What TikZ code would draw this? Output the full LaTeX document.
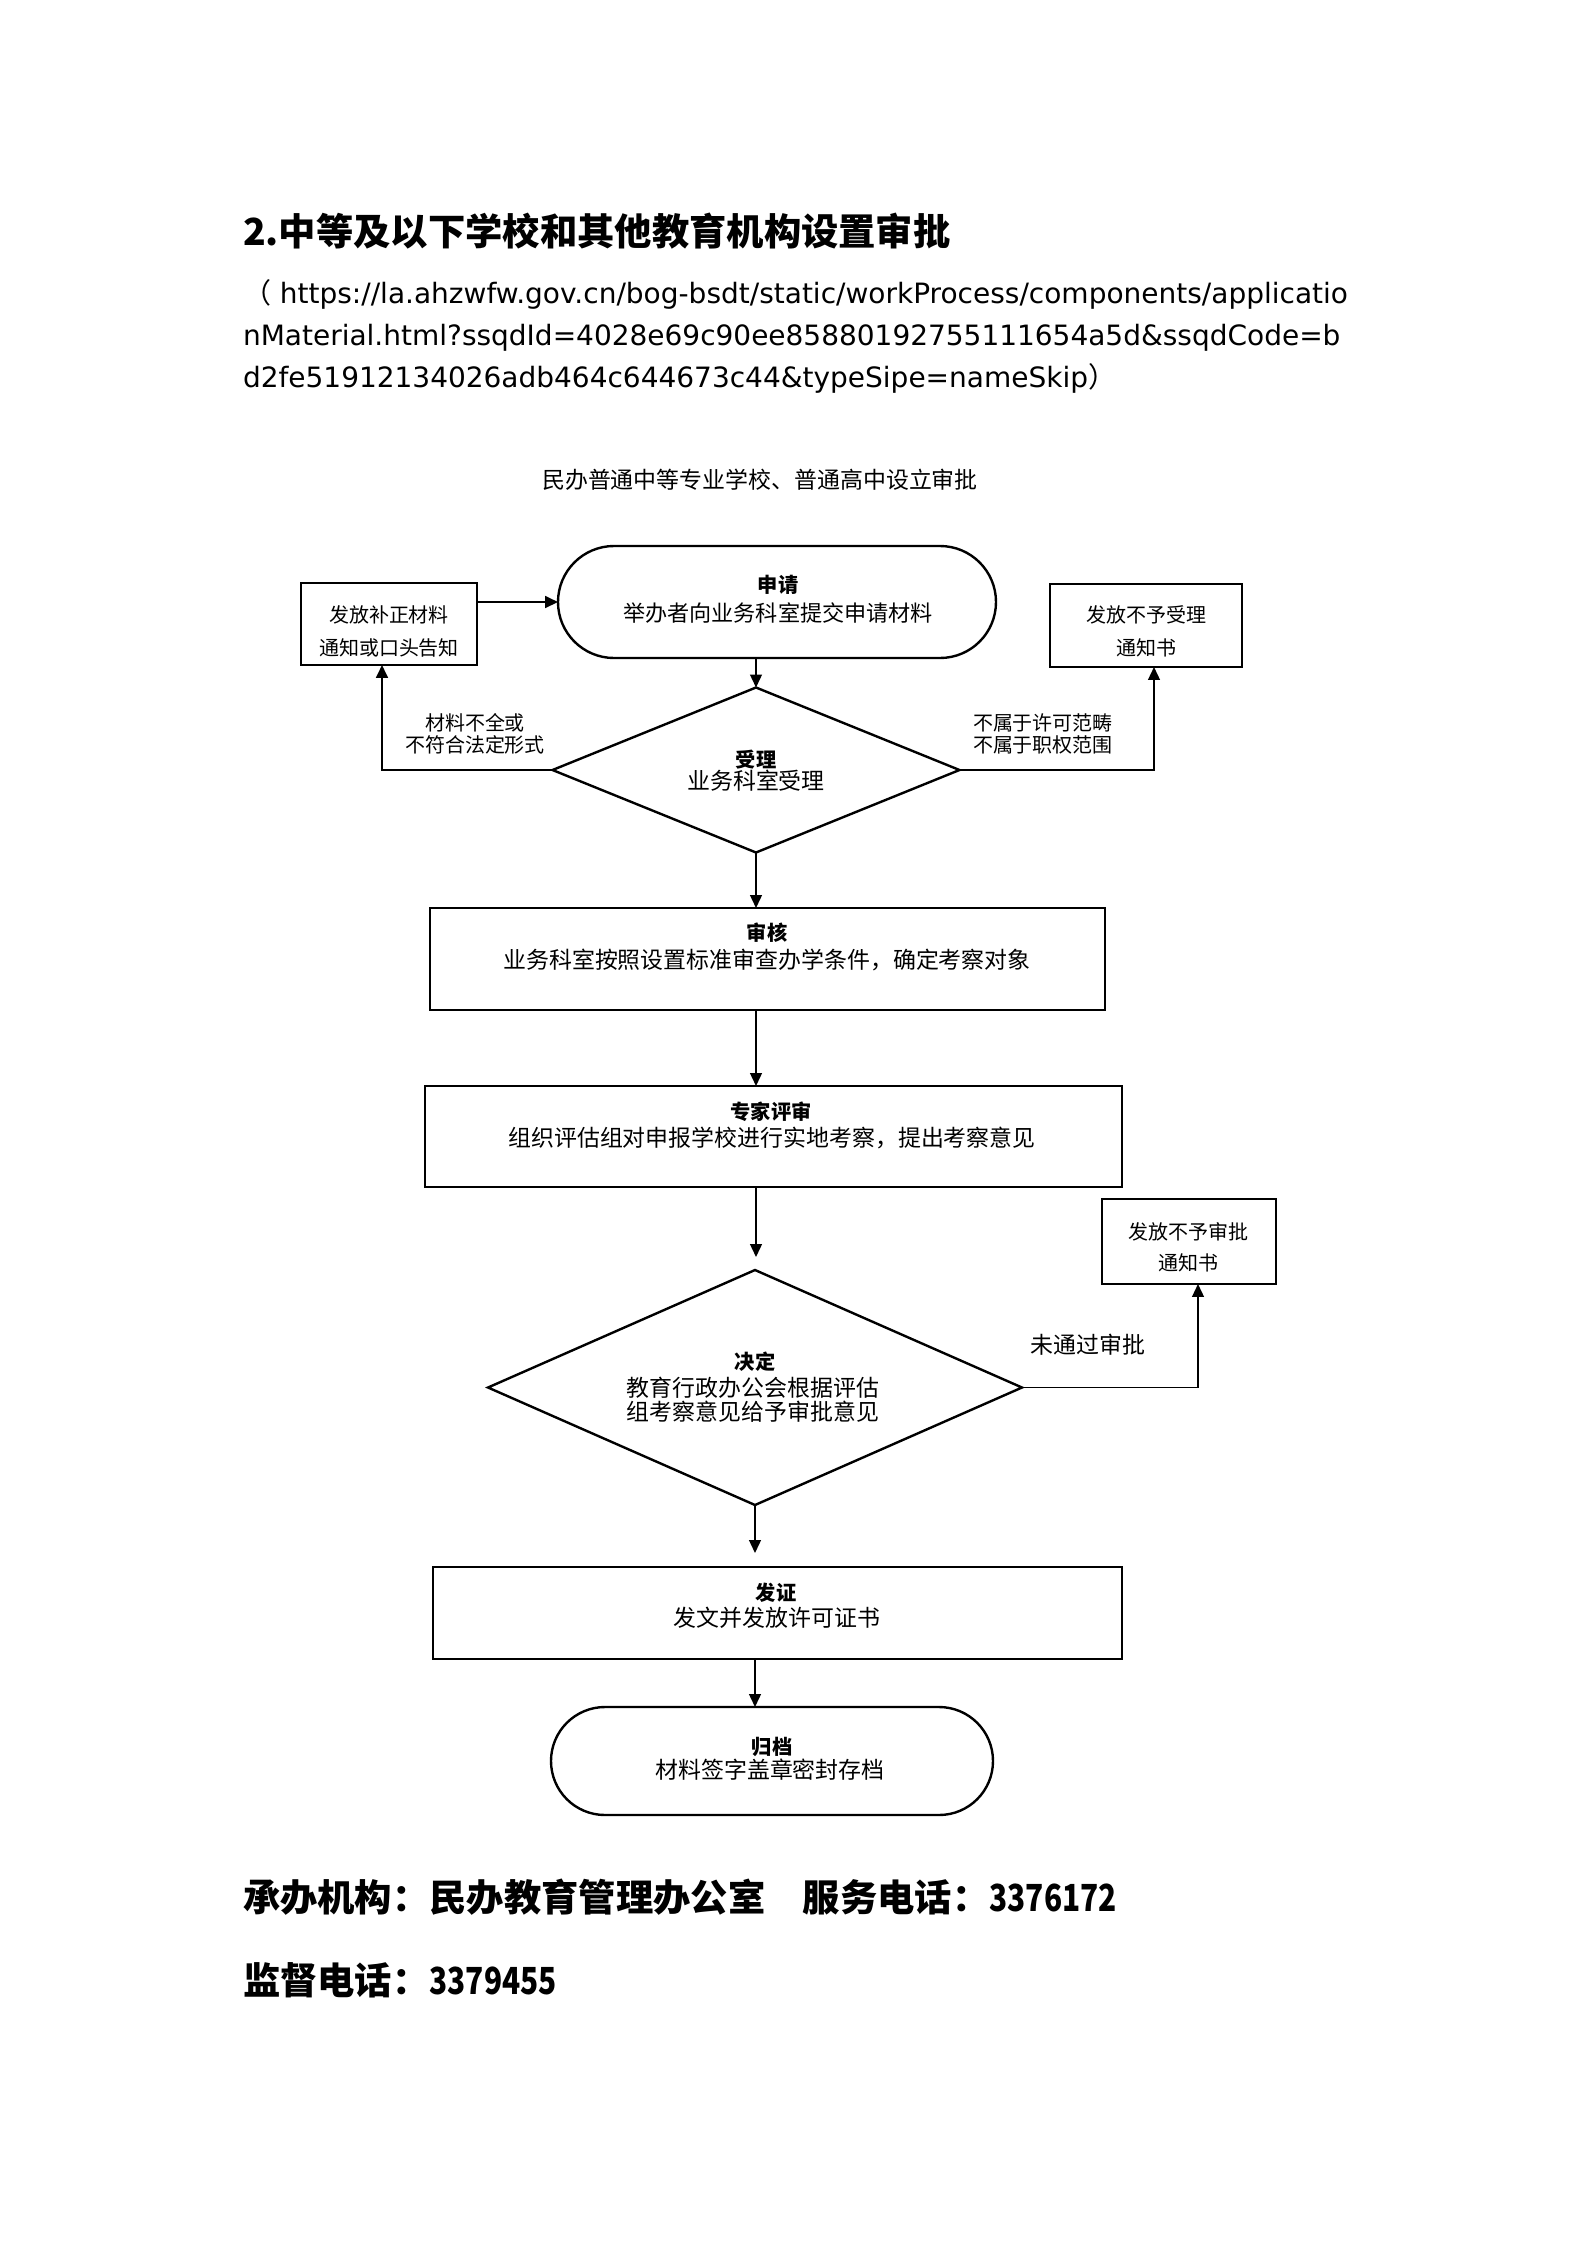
\documentclass[tikz,border=0pt]{standalone}
\usepackage{fontspec}
\usepackage{graphicx}
\setmainfont{DejaVu Sans}
\newfontfamily\cjk{Noto Sans CJK SC}
\usetikzlibrary{shapes.geometric,shapes.misc,arrows.meta}
\newcommand\pxu{0.37510pt}
\newcommand\narrowdigits[1]{\scalebox{0.8}[1]{#1}}
\begin{document}
\begin{tikzpicture}[x=0.37510pt,y=-0.37510pt,
  every node/.style={inner sep=0pt,outer sep=0pt},
  box/.style={draw,line width=0.95pt,rectangle},
  stad/.style={draw,line width=0.9pt,rounded rectangle},
  dia/.style={draw,line width=0.9pt,diamond},
  ctxt/.style={font=\cjk\fontsize{8.6}{10}\selectfont},
  atxt/.style={font=\cjk\fontsize{8.3}{10}\selectfont},
  btxt/.style={font=\cjk\bfseries\fontsize{7.6}{9}\selectfont},
  stxt/.style={font=\cjk\fontsize{7.5}{9}\selectfont},
  headtxt/.style={font=\cjk\bfseries\fontsize{14}{16}\selectfont},
  urltxt/.style={font=\fontsize{10.5}{12}\selectfont},
  conn/.style={line width=0.6pt},
  tip/.style={-{Triangle[length=4.8pt,width=4.4pt]}},
  arr/.style={conn,tip},
  thickarr/.style={line width=0.85pt,tip}]
\useasboundingbox (0,0) rectangle (1587,2245);

% heading and source
\node[headtxt,anchor=west] (heading) at (243,231) {2.中等及以下学校和其他教育机构设置审批};
\node[urltxt,anchor=base west] (url1) at (243,303) {{\cjk （} https://la.ahzwfw.gov.cn/bog-bsdt/static/workProcess/components/applicatio};
\node[urltxt,anchor=base west] (url2) at (243,345) {nMaterial.html?ssqdId=4028e69c90ee85880192755111654a5d\&ssqdCode=b};
\node[urltxt,anchor=base west] (url3) at (243,387) {d2fe51912134026adb464c644673c44\&typeSipe=nameSkip{\cjk ）}};

% chart title
\node[ctxt] (ctitle) at (760,480) {民办普通中等专业学校、普通高中设立审批};

% shapes
\node[stad,minimum width=438*\pxu,minimum height=112*\pxu] (apply) at (777,602) {};
\node[box,minimum width=176*\pxu,minimum height=82*\pxu] (lbox) at (389,624) {};
\node[box,minimum width=192*\pxu,minimum height=83*\pxu] (rbox1) at (1146,625.5) {};
\node[dia,minimum width=407*\pxu,minimum height=165*\pxu] (accept) at (756,770) {};
\node[box,minimum width=675*\pxu,minimum height=102*\pxu] (review) at (767.5,959) {};
\node[box,minimum width=697*\pxu,minimum height=101*\pxu] (expert) at (773.5,1136.5) {};
\node[dia,minimum width=534*\pxu,minimum height=235*\pxu] (decide) at (755,1387.5) {};
\node[box,minimum width=174*\pxu,minimum height=85*\pxu] (rbox2) at (1189,1241.5) {};
\node[box,minimum width=689*\pxu,minimum height=92*\pxu] (cert) at (777.5,1613) {};
\node[stad,minimum width=442*\pxu,minimum height=108*\pxu] (archive) at (772,1761) {};

% texts in shapes
\node[btxt] (apply-t1) at (778,585) {申请};
\node[atxt] (apply-t2) at (778,613) {举办者向业务科室提交申请材料};
\node[stxt] (lbox-t1) at (389,615) {发放补正材料};
\node[stxt] (lbox-t2) at (389,648) {通知或口头告知};
\node[stxt] (rbox1-t1) at (1146,615) {发放不予受理};
\node[stxt] (rbox1-t2) at (1146,648) {通知书};
\node[btxt] (accept-t1) at (756,760) {受理};
\node[ctxt] (accept-t2) at (756,781) {业务科室受理};
\node[btxt] (review-t1) at (767,933) {审核};
\node[ctxt] (review-t2) at (767,960) {业务科室按照设置标准审查办学条件，确定考察对象};
\node[btxt] (expert-t1) at (771,1112) {专家评审};
\node[ctxt] (expert-t2) at (772,1138) {组织评估组对申报学校进行实地考察，提出考察意见};
\node[btxt] (decide-t1) at (755,1362) {决定};
\node[ctxt] (decide-t2) at (753,1388) {教育行政办公会根据评估};
\node[ctxt] (decide-t3) at (753,1412) {组考察意见给予审批意见};
\node[stxt] (rbox2-t1) at (1188,1232) {发放不予审批};
\node[stxt] (rbox2-t2) at (1188,1263) {通知书};
\node[btxt] (cert-t1) at (776,1593) {发证};
\node[ctxt] (cert-t2) at (777,1618) {发文并发放许可证书};
\node[btxt] (archive-t1) at (772,1747) {归档};
\node[ctxt] (archive-t2) at (770,1770) {材料签字盖章密封存档};

% branch labels
\node[stxt] (lab-l1) at (475,723) {材料不全或};
\node[stxt] (lab-l2) at (475,745) {不符合法定形式};
\node[stxt,anchor=west] (lab-r1) at (973,723) {不属于许可范畴};
\node[stxt,anchor=west] (lab-r2) at (973,745) {不属于职权范围};
\node[ctxt] (lab-no) at (1088,1345) {未通过审批};

% connectors
\draw[thickarr] (lbox.east |- apply.west) -- (apply.west);
\draw[arr] (accept.north |- apply.south) -- (accept.north);
\draw[thickarr] (accept.west) -| ([xshift=-7*\pxu]lbox.south);
\draw[arr] (accept.east) -| ([xshift=8*\pxu]rbox1.south);
\draw[arr] (accept.south) -- (accept.south |- review.north);
\draw[arr] (accept.south |- review.south) -- (accept.south |- expert.north);
\draw[arr,shorten >=13*\pxu] (accept.south |- expert.south) -- (accept.south |- decide.north);
\draw[arr] (decide.east) -| ([xshift=9*\pxu]rbox2.south);
\draw[arr,shorten >=14*\pxu] (decide.south) -- (decide.south |- cert.north);
\draw[arr] (decide.south |- cert.south) -- (decide.south |- archive.north);

% footer
\node[headtxt,anchor=west] (foot1) at (243,1897) {承办机构：民办教育管理办公室　服务电话：\narrowdigits{3376172}};
\node[headtxt,anchor=west] (foot2) at (243,1980) {监督电话：\narrowdigits{3379455}};
\end{tikzpicture}
\end{document}
